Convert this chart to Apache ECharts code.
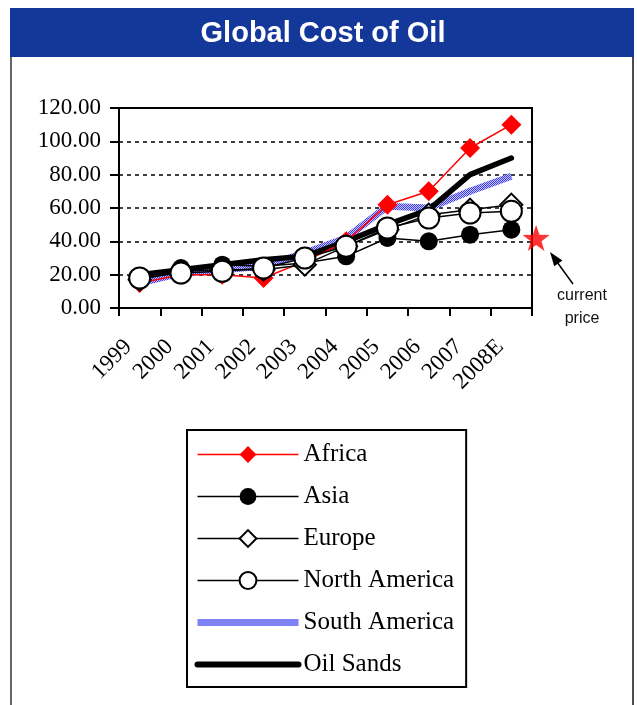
<!DOCTYPE html>
<html>
<head>
<meta charset="utf-8">
<script src="https://cdn.jsdelivr.net/npm/echarts@6/dist/echarts.min.js"></script>
<style>
  html, body { margin: 0; padding: 0; background: #fff; }
  #chart { width: 637px; height: 705px; }
</style>
</head>
<body>
<div id="chart"></div>
<script>
// Years on the category axis
const categories = ['1999', '2000', '2001', '2002', '2003', '2004', '2005', '2006', '2007', '2008E'];

// Cost of oil by region (US$ per barrel)
const africa       = [15, 20, 20, 18, 28, 40, 62, 70, 96, 110];
const asia         = [18, 24, 26, 25, 27, 31, 42, 40, 44, 47];
const europe       = [17, 22, 23, 23, 26, 37, 47, 56, 59, 62];
const northAmerica = [18, 21, 22, 24, 30, 37, 48, 54, 57, 58];
const southAmerica = [15, 21, 23, 25, 33, 42, 61, 60, 70, 79];
const oilSands     = [20, 23, 26, 29, 31, 40, 50, 59, 80, 90];

// Current price marker, placed just past the last year
const currentPrice = 42;
const currentPricePos = 10.1;

// Value axis ticks
const yTicks = [0, 20, 40, 60, 80, 100, 120];

const serif = 'Liberation Serif';
const sans = 'Liberation Sans';

// Blue/white checker texture for the South America line
function checkerPattern() {
  const c = document.createElement('canvas');
  c.width = 2; c.height = 2;
  const g = c.getContext('2d');
  g.fillStyle = '#c8c8ff';
  g.fillRect(0, 0, 2, 2);
  g.fillStyle = '#3a3aee';
  g.fillRect(0, 0, 1, 1);
  g.fillRect(1, 1, 1, 1);
  return c;
}
const saPattern = { image: checkerPattern(), repeat: 'repeat' };

// Five-pointed star symbol
function starPath() {
  const pts = [];
  for (let i = 0; i < 10; i++) {
    const a = (-90 + i * 36) * Math.PI / 180;
    const r = i % 2 === 0 ? 50 : 20;
    pts.push((50 + r * Math.cos(a)).toFixed(2) + ' ' + (50 + r * Math.sin(a)).toFixed(2));
  }
  return 'path://M' + pts.join(' L') + ' Z';
}

const chart = echarts.init(document.getElementById('chart'), null, { renderer: 'canvas' });

const blackLine = { color: '#000', width: 1.5 };
const hidden = { opacity: 0 };

chart.setOption({
  animation: false,
  backgroundColor: '#fff',
  graphic: [
    { type: 'rect', shape: { x: 10, y: 8, width: 624, height: 49 }, style: { fill: '#14379a' }, z: 0 },
    { type: 'text', x: 323, y: 34, z: 1,
      style: { text: 'Global Cost of Oil', fill: '#fff', font: 'bold 29px ' + sans, align: 'center', verticalAlign: 'middle' } },
    { type: 'line', shape: { x1: 11, y1: 57, x2: 11, y2: 705 }, style: { stroke: '#333', lineWidth: 1.5 } },
    { type: 'line', shape: { x1: 633, y1: 57, x2: 633, y2: 705 }, style: { stroke: '#111', lineWidth: 1.5 } },
    // pointer to the current price star
    { type: 'line', shape: { x1: 573, y1: 284, x2: 557, y2: 262 }, style: { stroke: '#000', lineWidth: 1.5 } },
    { type: 'polygon', shape: { points: [[550, 252], [562.4, 260.4], [554.2, 266.3]] }, style: { fill: '#000' } },
    { type: 'text', x: 582, y: 296, style: { text: 'current', fill: '#111', font: '16px ' + sans, align: 'center', verticalAlign: 'middle' } },
    { type: 'text', x: 582, y: 319, style: { text: 'price', fill: '#111', font: '16px ' + sans, align: 'center', verticalAlign: 'middle' } }
  ],
  grid: {
    left: 119, right: 105, top: 108, bottom: 397,
    show: true, borderColor: '#000', borderWidth: 2, backgroundColor: 'transparent'
  },
  legend: {
    orient: 'vertical',
    left: 187, top: 430,
    padding: [12, 12, 10, 7],
    itemWidth: 101, itemHeight: 21, itemGap: 17,
    borderColor: '#000', borderWidth: 2,
    textStyle: { fontFamily: serif, fontSize: 25, color: '#000' },
    data: [
      { name: 'Africa', lineStyle: { width: 1.5 } },
      { name: 'Asia', lineStyle: { width: 1.5 } },
      { name: 'Europe', lineStyle: { width: 1.5 } },
      { name: 'North America', lineStyle: { width: 1.5 } },
      { name: 'South America', lineStyle: { width: 7, color: saPattern }, itemStyle: hidden },
      { name: 'Oil Sands', lineStyle: { width: 6, cap: 'round' }, itemStyle: hidden }
    ],
    selectedMode: false
  },
  xAxis: [
    {
      type: 'category',
      data: categories,
      boundaryGap: true,
      axisLine: { lineStyle: { color: '#000', width: 2 } },
      axisTick: { show: true, inside: false, length: 8, lineStyle: { color: '#000', width: 2 } },
      axisLabel: {
        rotate: 45, fontFamily: serif, fontSize: 23, color: '#000',
        margin: 24, padding: [0, 16, 0, 0], interval: 0
      },
      splitLine: { show: false }
    },
    { type: 'value', min: 0, max: 10, show: false }
  ],
  yAxis: {
    type: 'value',
    min: yTicks[0], max: yTicks[yTicks.length - 1], interval: 20,
    axisLine: { show: true, lineStyle: { color: '#000', width: 2 } },
    axisTick: { show: true, inside: false, length: 9, lineStyle: { color: '#000', width: 2 } },
    axisLabel: {
      fontFamily: serif, fontSize: 23, color: '#000', margin: 18,
      formatter: v => v.toFixed(2)
    },
    splitLine: { show: true, lineStyle: { color: '#000', width: 1.5, type: [4, 4] } }
  },
  series: [
    {
      name: 'South America', type: 'line', data: southAmerica, z: 1,
      symbol: 'none',
      lineStyle: { color: saPattern, width: 7 },
      itemStyle: { color: '#5a5af0' }
    },
    {
      name: 'Oil Sands', type: 'line', data: oilSands, z: 2,
      symbol: 'none',
      lineStyle: { color: '#000', width: 5.5, cap: 'round', join: 'round' },
      itemStyle: { color: '#000' }
    },
    {
      name: 'Africa', type: 'line', data: africa, z: 3,
      symbol: 'diamond', symbolSize: 20, showAllSymbol: true,
      lineStyle: { color: '#ff0000', width: 1.5 },
      itemStyle: { color: '#ff0000' }
    },
    {
      name: 'Asia', type: 'line', data: asia, z: 4,
      symbol: 'circle', symbolSize: 18, showAllSymbol: true,
      lineStyle: blackLine,
      itemStyle: { color: '#000' }
    },
    {
      name: 'Europe', type: 'line', data: europe, z: 5,
      symbol: 'diamond', symbolSize: 22, showAllSymbol: true,
      lineStyle: blackLine,
      itemStyle: { color: '#fff', borderColor: '#000', borderWidth: 2 }
    },
    {
      name: 'North America', type: 'line', data: northAmerica, z: 6,
      symbol: 'circle', symbolSize: 21, showAllSymbol: true,
      lineStyle: blackLine,
      itemStyle: { color: '#fff', borderColor: '#000', borderWidth: 2 }
    },
    {
      name: 'Current price', type: 'scatter', xAxisIndex: 1, z: 7,
      data: [[currentPricePos, currentPrice]],
      symbol: starPath(), symbolSize: [27, 26], clip: false,
      itemStyle: { color: '#ff0000' }
    }
  ]
});
</script>
</body>
</html>
